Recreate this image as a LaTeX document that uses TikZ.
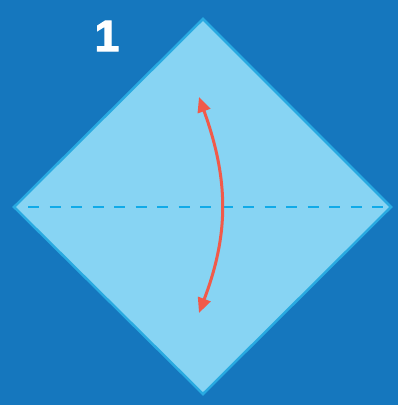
\documentclass[tikz,border=0pt]{standalone}
\usepackage{fontspec}
\setmainfont{Liberation Sans}
\newfontface\heavy{Liberation Sans Bold}[FakeBold=2.5]
\usetikzlibrary{arrows.meta}
\definecolor{bg}{HTML}{1577BE}
\definecolor{paper}{HTML}{87D4F3}
\definecolor{edge}{HTML}{29AAE1}
\definecolor{dash}{HTML}{10AAE8}
\definecolor{arr}{HTML}{F15A4A}
\tikzset{
  sheet/.style={fill=paper,draw=edge,line width=2.5pt,line join=miter},
  fold/.style={draw=dash,line width=2.5pt,dash pattern=on 11pt off 10.5pt},
  move/.style={draw=arr,line width=3pt,{Triangle[length=15pt,width=13pt]}-{Triangle[length=15pt,width=13pt]}},
  num/.style={text=white,font=\heavy\fontsize{44}{44}\selectfont,inner sep=0pt}
}
\begin{document}
\begin{tikzpicture}[x=1pt,y=-1pt]
\fill[bg] (0,0) rectangle (398,405);
\useasboundingbox (0,0) rectangle (398,405);
\coordinate (T) at (203,19);
\coordinate (L) at (14,207);
\coordinate (R) at (391,207);
\coordinate (B) at (203,394);
\path[sheet] (T) -- (R) -- (B) -- (L) -- cycle;
\path (L) ++(14,0) coordinate (L1) (R) ++(-6,0) coordinate (R1);
\draw[fold] (L1) -- (R1);
\coordinate (A1) at (199,97);
\coordinate (A2) at (199,313);
\draw[move] (A1) .. controls (229,180) and (229,234) .. (A2);
\node[num] (n1) at (107,36) {1};
\end{tikzpicture}
\end{document}
